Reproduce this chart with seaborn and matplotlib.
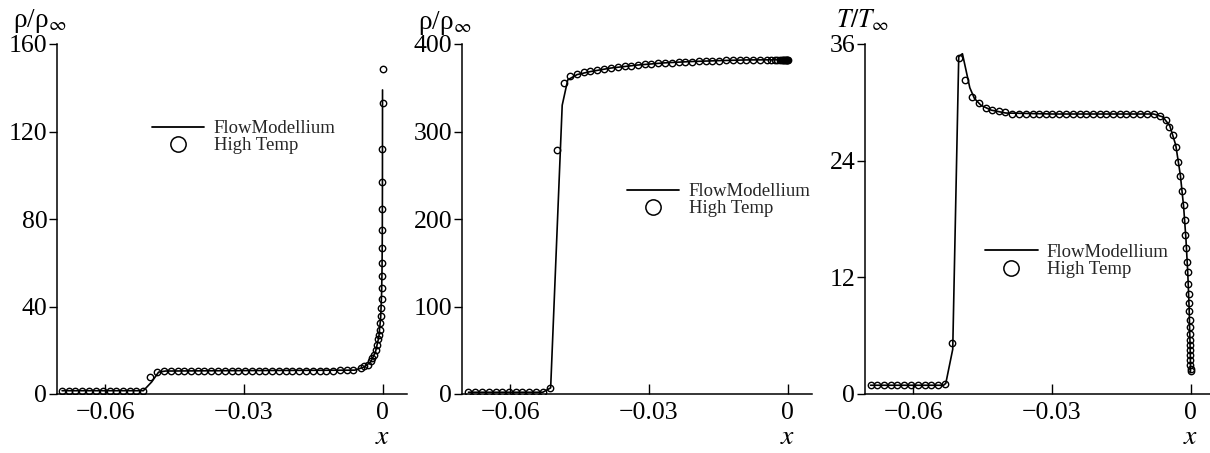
import numpy as np
import pandas as pd
import seaborn as sns
import matplotlib
matplotlib.use("Agg")
import matplotlib.pyplot as plt
from matplotlib.lines import Line2D

# ---------------- data ----------------
# Panel 1: rho / rho_inf
rho1_line_x = [-0.0694, -0.0518, -0.0500, -0.0485, -0.0470, -0.0300, -0.0060, -0.0040, -0.0025,
               -0.0015, -0.0008, -0.0004, -0.0002, -0.0001, -0.00005, -0.00002, 0.0]
rho1_line_y = [1.5, 1.5, 5.5, 10.0, 10.5, 10.7, 10.9, 12.3, 14.8,
               19.5, 26.0, 35.0, 46.0, 58.0, 72.0, 95.0, 139.0]
rho1_pts_x = [-0.0694, -0.0679, -0.0665, -0.0650, -0.0635, -0.0621, -0.0606, -0.0591, -0.0577,
              -0.0562, -0.0547, -0.0533, -0.0518,
              -0.0503, -0.0489,
              -0.0474, -0.0459, -0.0444, -0.0430, -0.0415, -0.0400, -0.0386, -0.0371, -0.0356,
              -0.0342, -0.0327, -0.0312, -0.0298, -0.0283, -0.0268, -0.0254, -0.0239, -0.0224,
              -0.0210, -0.0195, -0.0180, -0.0166, -0.0151, -0.0136, -0.0122, -0.0107, -0.0092,
              -0.0078, -0.0063,
              -0.0047, -0.0040, -0.0032, -0.0025, -0.0022, -0.0018, -0.0014, -0.0011, -0.0009,
              -0.0007, -0.0006, -0.0005, -0.0004, -0.0003, -0.00022, -0.00015, -0.0001, -0.00007,
              -0.00005, -0.00004, -0.00003, -0.00002, -0.00001, -0.000005, 0.0]
rho1_pts_y = [1.5, 1.5, 1.5, 1.5, 1.5, 1.5, 1.5, 1.5, 1.5,
              1.5, 1.5, 1.5, 1.5,
              7.8, 10.0,
              10.6, 10.6, 10.6, 10.6, 10.6, 10.6, 10.6, 10.6, 10.6,
              10.6, 10.6, 10.6, 10.6, 10.6, 10.6, 10.6, 10.6, 10.6,
              10.6, 10.6, 10.6, 10.6, 10.6, 10.7, 10.7, 10.7, 10.8,
              10.9, 11.2,
              12.0, 12.6, 13.4, 15.0, 16.5, 18.0, 20.0, 22.5, 25.0,
              27.0, 29.4, 32.5, 35.8, 39.3, 43.6, 48.5, 53.8, 59.9,
              66.7, 75.0, 84.7, 96.8, 111.8, 133.0, 148.7]

# Panel 2: rho / rho_inf
rho2_line_x = [-0.0691, -0.0530, -0.0513, -0.0488, -0.0476, -0.0456, -0.0427, -0.0383, -0.0324,
               -0.0265, -0.0207, -0.0148, -0.0089, 0.0]
rho2_line_y = [2.0, 2.0, 7.0, 330.0, 359.0, 365.0, 368.5, 372.5, 376.0,
               378.5, 380.0, 381.0, 381.8, 382.0]
rho2_pts_x = [-0.0691, -0.0676, -0.0662, -0.0647, -0.0632, -0.0618, -0.0603, -0.0588, -0.0574,
              -0.0559, -0.0544, -0.0530,
              -0.0515, -0.0500, -0.0485,
              -0.0471, -0.0456, -0.0441, -0.0427, -0.0412, -0.0397, -0.0383, -0.0368, -0.0353,
              -0.0339, -0.0324, -0.0309, -0.0295, -0.0280, -0.0265, -0.0251, -0.0236, -0.0221,
              -0.0207, -0.0192, -0.0177, -0.0163, -0.0148, -0.0133, -0.0119, -0.0104, -0.0089,
              -0.0075, -0.0060, -0.0045,
              -0.0035, -0.0028, -0.0022, -0.0017, -0.0013, -0.0010, -0.0007, -0.0005, -0.0003,
              -0.0002, -0.0001, 0.0]
rho2_pts_y = [2.0, 2.0, 2.0, 2.0, 2.0, 2.0, 2.0, 2.0, 2.0,
              2.0, 2.0, 2.0,
              6.9, 279.0, 355.0,
              363.0, 365.5, 367.5, 369.0, 370.5, 371.5, 372.5, 373.5, 374.5,
              375.2, 376.0, 376.6, 377.2, 377.8, 378.3, 378.8, 379.2, 379.6,
              380.0, 380.3, 380.6, 380.9, 381.1, 381.3, 381.5, 381.7, 381.8,
              381.9, 382.0, 382.0,
              382.0, 382.0, 382.0, 382.0, 382.0, 382.0, 382.0, 382.0, 382.0,
              382.0, 382.0, 382.0]

# Panel 3: T / T_inf
t_line_x = [-0.0693, -0.0535, -0.0530, -0.0515, -0.0502, -0.0494, -0.0478, -0.0468, -0.0454,
            -0.0432, -0.0400, -0.0300, -0.0080, -0.0060, -0.0045, -0.0032, -0.0022, -0.0015,
            -0.0010, -0.0006, -0.0003, -0.00015, -0.00005, 0.0]
t_line_y = [0.9, 0.9, 1.1, 4.6, 34.7, 35.0, 31.5, 30.4, 29.7,
            29.2, 28.9, 28.8, 28.8, 28.5, 27.6, 25.6, 22.5, 19.3,
            16.0, 12.5, 8.8, 6.0, 4.0, 2.2]
t_pts_x = [-0.0693, -0.0678, -0.0664, -0.0649, -0.0635, -0.0620, -0.0605, -0.0591, -0.0576,
           -0.0562, -0.0547,
           -0.0532, -0.0517, -0.0502, -0.0488, -0.0473, -0.0459, -0.0444, -0.0430, -0.0415,
           -0.0401,
           -0.0386, -0.0371, -0.0357, -0.0342, -0.0328, -0.0313, -0.0299, -0.0284, -0.0270,
           -0.0255, -0.0240, -0.0226, -0.0211, -0.0197, -0.0182, -0.0168, -0.0153, -0.0139,
           -0.0124, -0.0110, -0.0095, -0.0080,
           -0.0066, -0.0054, -0.0047, -0.0038, -0.0032, -0.0027, -0.0022, -0.0018, -0.0015,
           -0.0012, -0.0011, -0.0009, -0.0007, -0.0006, -0.0005, -0.00043, -0.00036, -0.0003,
           -0.00022, -0.00015, -0.00013, -0.0001, -0.00008, -0.00005, -0.00003, -0.00002,
           -0.00001, 0.0, 0.00002]
t_pts_y = [0.9, 0.9, 0.9, 0.9, 0.9, 0.9, 0.9, 0.9, 0.9,
           0.9, 0.9,
           1.0, 5.2, 34.6, 32.3, 30.6, 29.9, 29.4, 29.2, 29.1,
           29.0,
           28.8, 28.8, 28.8, 28.8, 28.8, 28.8, 28.8, 28.8, 28.8,
           28.8, 28.8, 28.8, 28.8, 28.8, 28.8, 28.8, 28.8, 28.8,
           28.8, 28.8, 28.8, 28.8,
           28.6, 28.2, 27.5, 26.6, 25.4, 23.9, 22.4, 20.9, 19.4,
           17.9, 16.4, 15.0, 13.6, 12.5, 11.3, 10.3, 9.4, 8.5,
           7.6, 6.9, 6.2, 5.6, 5.0, 4.5, 4.0, 3.5,
           3.0, 2.6, 2.4]

x_ticks = [-0.06, -0.03, 0]
x_ticklabels = ["\u22120.06", "\u22120.03", "0"]
y_ticks = [[0, 40, 80, 120, 160], [0, 100, 200, 300, 400], [0, 12, 24, 36]]
y_labels = ["\u03c1/\u03c1$_\\infty$", "\u03c1/\u03c1$_\\infty$", "$T/T_\\infty$"]
legend_labels = ["FlowModellium", "High Temp"]

# ---------------- style ----------------
sns.set_theme(style="white")
plt.rcParams["font.family"] = ["Liberation Serif", "DejaVu Serif"]
plt.rcParams["mathtext.fontset"] = "stix"

fig = plt.figure(figsize=(12.10, 4.53), dpi=100)
W, H = 1210, 453
ax_w, ax_h = 350 / W, 350 / H
bottom = 59 / H
lefts = [57 / W, 462 / W, 865 / W]

panels = [
    (rho1_line_x, rho1_line_y, rho1_pts_x, rho1_pts_y),
    (rho2_line_x, rho2_line_y, rho2_pts_x, rho2_pts_y),
    (t_line_x, t_line_y, t_pts_x, t_pts_y),
]
leg_pos = [(0.271, 0.734), (0.471, 0.554), (0.343, 0.38)]
ylab_pos = [(-0.051, 1.066), (-0.051, 1.060), (-0.006, 1.068)]
ylab_size = [19.5, 19.5, 18.5]

for i, (lx, ly, px, py) in enumerate(panels):
    ax = fig.add_axes([lefts[i], bottom, ax_w, ax_h])
    line_df = pd.DataFrame({"x": lx, "y": ly})
    pts_df = pd.DataFrame({"x": px, "y": py})
    sns.lineplot(data=line_df, x="x", y="y", ax=ax, color="black", lw=1.2,
                 sort=False, estimator=None, legend=False)
    sns.lineplot(data=pts_df, x="x", y="y", ax=ax, color="black", lw=0,
                 marker="o", markersize=4.6, markerfacecolor="none",
                 markeredgecolor="black", markeredgewidth=1.0,
                 sort=False, estimator=None, legend=False)
    ax.set_xlim(-0.0705, 0.0053)
    ax.set_ylim(y_ticks[i][0], y_ticks[i][-1])
    ax.set_xticks(x_ticks)
    ax.set_xticklabels(x_ticklabels)
    ax.set_yticks(y_ticks[i])
    ax.set_yticklabels([str(v) for v in y_ticks[i]])
    ax.set_xlabel("")
    ax.set_ylabel("")
    for s in ["top", "right"]:
        ax.spines[s].set_visible(False)
    for s in ["left", "bottom"]:
        ax.spines[s].set_color("black")
        ax.spines[s].set_linewidth(1.1)
    ax.tick_params(axis="x", direction="in", length=7, width=1.0, labelsize=18.5,
                   pad=6, colors="black", bottom=True)
    ax.tick_params(axis="y", direction="out", length=6, width=1.0, labelsize=18.5,
                   pad=1, colors="black", left=True)
    ax.text(ylab_pos[i][0], ylab_pos[i][1], y_labels[i], transform=ax.transAxes,
            ha="center", va="center", fontsize=ylab_size[i], color="black")
    ax.text(0.0, -0.125, "$x$", transform=ax.get_xaxis_transform(),
            ha="center", va="center", fontsize=20, color="black")
    handles = [Line2D([], [], color="black", lw=1.3),
               Line2D([], [], ls="", marker="o", ms=11, mfc="none", mec="black", mew=1.1)]
    ax.legend(handles, legend_labels, loc="center left", bbox_to_anchor=leg_pos[i],
              frameon=False, fontsize=13.5, borderpad=0, borderaxespad=0,
              handlelength=2.8, handletextpad=0.5, labelspacing=0.0)
    ax.set_facecolor("white")

fig.savefig("out.png", dpi=100, facecolor="white")
